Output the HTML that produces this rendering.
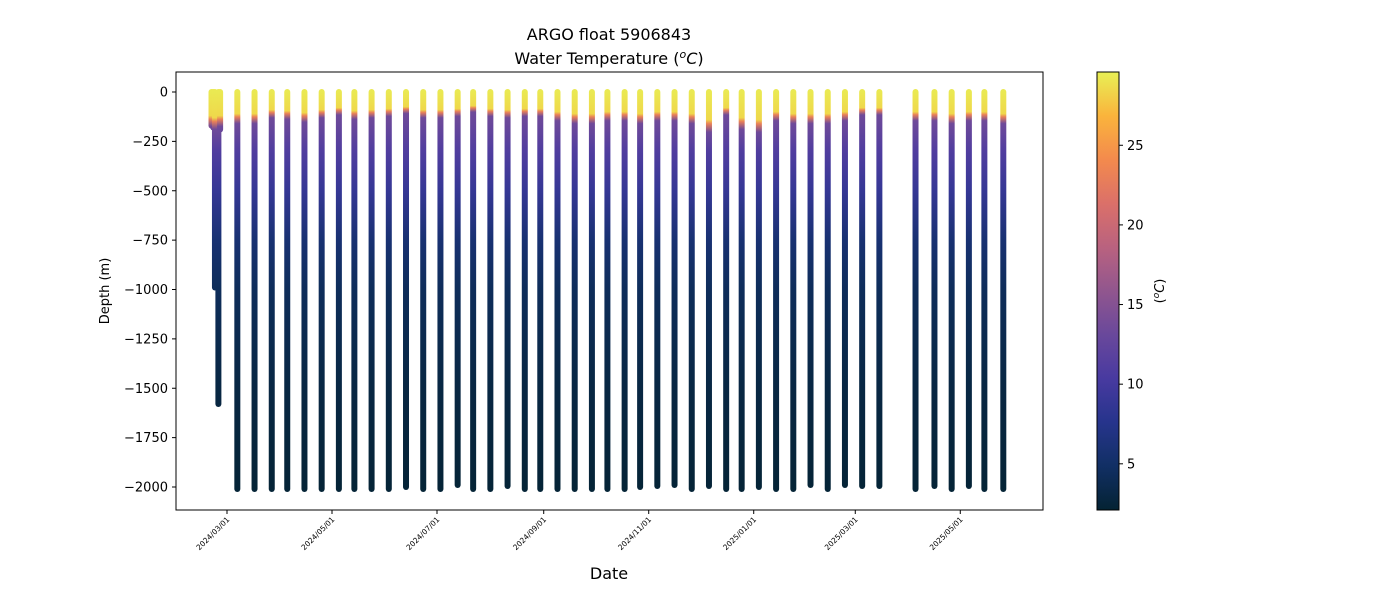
<!DOCTYPE html>
<html><head><meta charset="utf-8"><style>
body{margin:0;background:#fff;}
svg{display:block;font-family:"DejaVu Sans","Liberation Sans",sans-serif;}
</style></head><body>
<svg id="c" width="1400" height="600">
<defs id="defs"></defs>
<text x="609" y="40" font-size="16" text-anchor="middle">ARGO float 5906843</text>
<text x="609" y="64" font-size="16" text-anchor="middle">Water Temperature (<tspan font-style="italic" dy="-6" font-size="11">o</tspan><tspan dy="6" font-style="italic">C</tspan>)</text>
<g id="plot"></g>
<rect x="176" y="72" width="867" height="438" fill="none" stroke="#000" stroke-width="1"/>
<g id="yax"></g>
<g id="xax"></g>
<text x="0" y="0" transform="translate(109,291) rotate(-90)" font-size="13" text-anchor="middle">Depth (m)</text>
<text x="609" y="579" font-size="16" text-anchor="middle">Date</text>
<g id="cbar"></g>
<text transform="translate(1164,291) rotate(-90)" font-size="13" text-anchor="middle">(<tspan font-style="italic" dy="-5" font-size="9">o</tspan><tspan dy="5" font-style="italic">C</tspan>)</text>
</svg>
<script>
// days since 2024-03-01
const profileDays=[-9,-8,-7,-5,-4,6,16,26,35,45,55,65,74,84,94,104,114,124,134,143,153,163,173,182,192,202,212,221,231,240,250,260,270,280,290,299,309,319,329,339,349,359,369,379,400,411,421,431,440,451];
const maxDepths=[170,180,990,1580,190,2010,2010,2010,2010,2010,2010,2010,2010,2010,2010,2000,2010,2010,1990,2010,2010,1995,2010,2010,2010,2010,2010,2010,2010,2000,1995,1990,2010,1995,2010,2010,2000,2010,2010,1990,2010,1990,1995,1995,2010,1995,2010,1995,2010,2010];
const mixedLayer=[120,120,130,130,120,110,110,90,95,105,90,80,95,90,85,75,90,90,85,70,85,90,85,85,100,110,110,100,100,110,100,100,110,140,80,130,140,100,110,110,110,100,80,80,100,100,110,100,100,110];
const tempDepths=[0,1,1.15,1.45,300,500,750,1000,1500,2000];
const tempValues=[29.3,28.5,23,13.5,11,8.8,5.8,4.3,3,2.3];
const yTicks=[0,-250,-500,-750,-1000,-1250,-1500,-1750,-2000];
const xTickDays=[0,61,122,184,245,306,365,426];
const xTickLabels=["2024/03/01","2024/05/01","2024/07/01","2024/09/01","2024/11/01","2025/01/01","2025/03/01","2025/05/01"];
const cbTicks=[5,10,15,20,25];
const NS="http://www.w3.org/2000/svg";
const xS=d=>227+d*1.7213;
const yS=v=>92-v*0.1975;
const tMin=2.1,tMax=29.6;
const cbY=t=>510-(t-tMin)/(tMax-tMin)*438;
const cmap=[[4,35,51],[17,47,100],[38,52,140],[72,58,160],[105,72,155],[145,86,142],[185,98,127],[219,112,105],[243,138,77],[250,180,60],[232,240,85]];
function col(t){let f=(t-tMin)/(tMax-tMin);f=Math.max(0,Math.min(1,f))*(cmap.length-1);const i=Math.min(Math.floor(f),cmap.length-2),r=f-i;const a=cmap[i],b=cmap[i+1];return `rgb(${a.map((v,k)=>Math.round(v+(b[k]-v)*r)).join(',')})`;}
function mk(tag,attrs,parent){const e=document.createElementNS(NS,tag);for(const k in attrs)e.setAttribute(k,attrs[k]);parent.appendChild(e);return e;}
function tempAt(depth,ml){
  let prevD=0,prevT=tempValues[0];
  for(let k=0;k<tempDepths.length;k++){
    const z=tempDepths[k]<10?tempDepths[k]*ml:tempDepths[k];
    if(depth<=z){if(z===prevD)return tempValues[k];return prevT+(tempValues[k]-prevT)*(depth-prevD)/(z-prevD);}
    prevD=z;prevT=tempValues[k];
  }
  return prevT;
}
const defs=document.getElementById('defs'),plot=document.getElementById('plot');
profileDays.forEach((d,i)=>{
  const md=maxDepths[i],ml=mixedLayer[i];
  const g=mk('linearGradient',{id:'g'+i,gradientUnits:'userSpaceOnUse',x1:0,y1:yS(0),x2:0,y2:yS(-md)},defs);
  tempDepths.forEach((z,k)=>{
    const depth=z<10?z*ml:z;
    if(depth<md) mk('stop',{offset:depth/md,'stop-color':col(tempValues[k])},g);
  });
  mk('stop',{offset:1,'stop-color':col(tempAt(md,ml))},g);
  const x=xS(d);
  const ln=mk('line',{x1:x,x2:x,y1:yS(0),y2:yS(-md),stroke:`url(#g${i})`,'stroke-width':6,'stroke-linecap':'round'},plot);
  
  
});
const yax=document.getElementById('yax');
yTicks.forEach(v=>{
  const y=yS(v);
  mk('line',{x1:172,x2:176,y1:y,y2:y,stroke:'#000'},yax);
  const t=mk('text',{x:168,y:y+4.5,'font-size':13,'text-anchor':'end'},yax);
  t.textContent=v<0?'\u2212'+(-v):String(v);
  
  
});
const xax=document.getElementById('xax');
xTickDays.forEach((d,i)=>{
  const x=xS(d);
  mk('line',{x1:x,x2:x,y1:510,y2:514,stroke:'#000'},xax);
  const t=mk('text',{transform:`translate(${x+3},${520}) rotate(-45)`,'font-size':7.5,'text-anchor':'end'},xax);
  t.textContent=xTickLabels[i];
  
  
});
const cb=document.getElementById('cbar');
const cg=mk('linearGradient',{id:'cbg',x1:0,y1:1,x2:0,y2:0},defs);
for(let k=0;k<=20;k++){const t=tMin+(tMax-tMin)*k/20;mk('stop',{offset:k/20,'stop-color':col(t)},cg);}
mk('rect',{x:1097,y:72,width:22,height:438,fill:'url(#cbg)',stroke:'#000','stroke-width':1},cb);
cbTicks.forEach(v=>{
  const y=cbY(v);
  mk('line',{x1:1119,x2:1123,y1:y,y2:y,stroke:'#000'},cb);
  const t=mk('text',{x:1127,y:y+4.5,'font-size':13},cb);
  t.textContent=v;
  
  
});
</script>
</body></html>
